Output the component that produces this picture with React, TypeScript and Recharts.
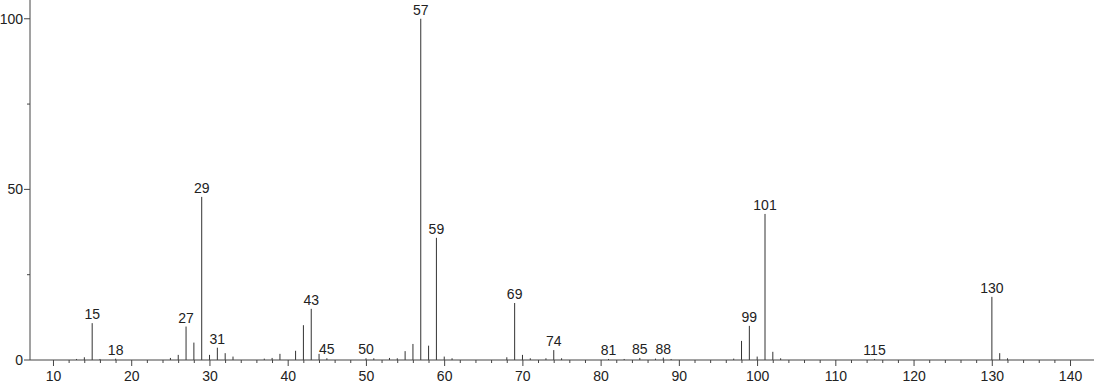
import { BarChart, Bar, XAxis, YAxis, LabelList } from "recharts";

// mass spectrum: m/z and relative intensity (%)
const massToCharge = [
  13, 14, 15, 16, 18, 25, 26, 27, 28, 29, 30, 31, 32, 33, 37, 38, 39, 41, 42, 43, 44, 45,
  50, 51, 53, 54, 55, 56, 57, 58, 59, 60, 61, 68, 69, 70, 71, 73, 74, 75, 81, 83, 85, 87,
  88, 89, 97, 98, 99, 100, 101, 102, 103, 115, 130, 131, 132,
];
const relativeIntensity = [
  0.3, 0.8, 10.8, 0.3, 0.4, 0.6, 1.5, 9.8, 5.1, 47.8, 1.5, 3.6, 2.0, 1.0, 0.4, 0.6, 1.8, 2.7, 10.2, 15.0, 1.8, 0.5,
  0.5, 0.5, 0.6, 0.5, 2.6, 4.7, 100, 4.2, 35.8, 1.0, 0.5, 0.8, 16.7, 1.5, 0.5, 0.5, 2.9, 0.5, 0.3, 0.3, 0.6, 0.4,
  0.7, 0.3, 0.4, 5.6, 10.0, 1.0, 42.8, 2.4, 0.5, 0.3, 18.5, 2.0, 0.5,
];
const labelledPeaks = [15, 18, 27, 29, 31, 43, 45, 50, 57, 59, 69, 74, 81, 85, 88, 99, 101, 115, 130];

const xTicks = [
  10, 12, 14, 16, 18, 20, 22, 24, 26, 28, 30, 32, 34, 36, 38, 40, 42, 44, 46, 48, 50, 52, 54, 56, 58,
  60, 62, 64, 66, 68, 70, 72, 74, 76, 78, 80, 82, 84, 86, 88, 90, 92, 94, 96, 98, 100, 102, 104, 106,
  108, 110, 112, 114, 116, 118, 120, 122, 124, 126, 128, 130, 132, 134, 136, 138, 140,
];
const xLabelled = [10, 20, 30, 40, 50, 60, 70, 80, 90, 100, 110, 120, 130, 140];
const yTicks = [0, 25, 50, 75, 100];
const yLabelled = [0, 50, 100];

const spectrum = massToCharge.map((mz, i) => ({
  mz,
  intensity: relativeIntensity[i],
  label: labelledPeaks.includes(mz) ? String(mz) : null,
}));

const AXIS = "#444";
const FONT = "'Liberation Sans', Arial, sans-serif";

function Stick(props: any) {
  const { x, y, width, height } = props;
  const cx = x + width / 2;
  return <line x1={cx} x2={cx} y1={y} y2={y + height} stroke="#333" strokeWidth={1} />;
}

function XTick(props: any) {
  const { x, y, payload } = props;
  const major = xLabelled.includes(payload.value);
  return (
    <g>
      <line x1={x} x2={x} y1={y} y2={y + (major ? 6 : 3)} stroke={AXIS} />
      {major && (
        <text x={x} y={y + 21} textAnchor="middle" fontSize={14} fontFamily={FONT} fill="#222">
          {payload.value}
        </text>
      )}
    </g>
  );
}

function YTick(props: any) {
  const { x, y, payload } = props;
  const major = yLabelled.includes(payload.value);
  return (
    <g>
      <line x1={x - (major ? 6 : 3)} x2={x} y1={y} y2={y} stroke={AXIS} />
      {major && (
        <text x={x - 7} y={y + 5} textAnchor="end" fontSize={14} fontFamily={FONT} fill="#222">
          {payload.value}
        </text>
      )}
    </g>
  );
}

function PeakLabel(props: any) {
  const { x, y, width, value } = props;
  if (!value) return null;
  return (
    <text x={x + width / 2} y={y - 4} textAnchor="middle" fontSize={14} fontFamily={FONT} fill="#222">
      {value}
    </text>
  );
}

export default function App() {
  return (
    <div>
      <style>{"body{margin:0;background:#fff}"}</style>
      <BarChart
        width={1094}
        height={384}
        data={spectrum}
        margin={{ top: 0, right: 0, bottom: 0, left: 0 }}
        barSize={1}
      >
        <XAxis
          dataKey="mz"
          type="number"
          domain={[7, 143]}
          ticks={xTicks}
          interval={0}
          height={24}
          tickSize={0}
          tickMargin={0}
          tickLine={false}
          axisLine={{ stroke: AXIS }}
          tick={<XTick />}
          allowDataOverflow
        />
        <YAxis
          type="number"
          domain={[0, 105.5]}
          ticks={yTicks}
          interval={0}
          width={30}
          tickSize={0}
          tickMargin={0}
          tickLine={false}
          axisLine={{ stroke: AXIS }}
          tick={<YTick />}
          allowDataOverflow
        />
        <Bar dataKey="intensity" shape={<Stick />} isAnimationActive={false}>
          <LabelList dataKey="label" content={<PeakLabel />} />
        </Bar>
      </BarChart>
    </div>
  );
}
